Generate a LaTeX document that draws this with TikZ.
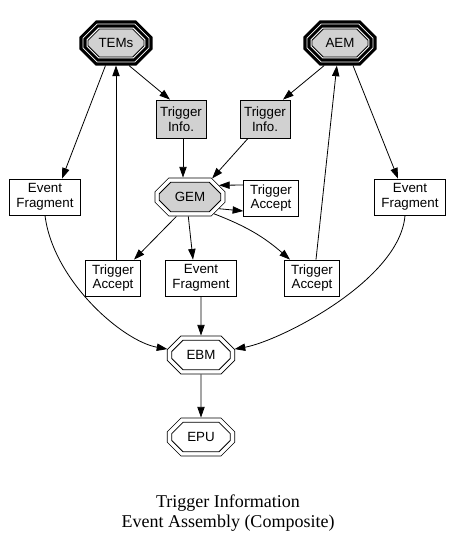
\documentclass[tikz,border=0pt]{standalone}
\usepackage{fontspec}
\setmainfont{Liberation Serif}
\setsansfont{Liberation Sans}
\usetikzlibrary{arrows.meta, shapes.misc}

\begin{document}
\begin{tikzpicture}[x=0.75pt, y=-0.75pt, font=\sffamily\fontsize{10}{11}\selectfont,
  >={Triangle[length=8pt, width=5.5pt]},
  edge/.style={->, line width=0.6pt},
  box/.style={draw, line width=0.6pt, rectangle, align=center, inner sep=0, minimum height=27pt},
  info/.style={box, fill=black!18, minimum width=37.5pt, minimum height=28.5pt},
  acc/.style={box, minimum width=41pt},
  frag/.style={box, minimum width=53pt},
  oct/.style={chamfered rectangle, chamfered rectangle xsep=8pt, chamfered rectangle ysep=5pt,
    draw, line width=0.6pt, inner sep=0, minimum width=44pt, minimum height=22pt},
  dbloct/.style={oct, fill=white, outer sep=3.6pt,
    preaction={draw, line width=7.2pt}, preaction={draw, white, line width=6pt}},
  triplet/.style={oct, fill=black!18, outer sep=6.4pt, minimum width=42pt, minimum height=21pt,
    preaction={draw, line width=12.8pt}, preaction={draw, white, line width=8.2pt},
    preaction={draw, line width=6.8pt}, preaction={draw, white, line width=2.2pt}},
  caption/.style={align=center, font=\rmfamily\fontsize{13.5}{14.5}\selectfont}]
\useasboundingbox (0,0) rectangle (452,547);
% sources
\node[triplet] (tems) at (116,43) {TEMs};
\node[triplet] (aem)  at (340,43) {AEM};
\node[info] (tiL) at (181,119) {Trigger\\Info.};
\node[info] (tiR) at (265,119) {Trigger\\Info.};
% global event manager
\node[dbloct, fill=black!18, minimum width=46pt] (gem) at (190,197) {GEM};
\node[acc]  (taG) at (271,198) {Trigger\\Accept};
\node[frag] (efL) at (45,197)  {Event\\Fragment};
\node[frag] (efR) at (410,197) {Event\\Fragment};
\node[acc]  (taL) at (113,278) {Trigger\\Accept};
\node[frag] (efM) at (201,278) {Event\\Fragment};
\node[acc]  (taR) at (312,278) {Trigger\\Accept};
% builders
\node[dbloct] (ebm) at (201,355) {EBM};
\node[dbloct] (epu) at (201,437) {EPU};
\node[caption] (cap) at (228,513) {Trigger Information\\Event Assembly (Composite)};

\draw[edge] (tems.245) -- ([shift={(17,0)}]efL.north);
\draw[edge] (tems.300) -- ([shift={(-11,0)}]tiL.north);
\draw[edge] (taL.north -| tems) -- (tems.south);
\draw[edge] (aem.235) -- ([shift={(18,0)}]tiR.north);
\draw[edge] (aem.300) -- ([shift={(-12,0)}]efR.north);
\draw[edge] ([shift={(4,0)}]taR.north) -- (aem.262);
\draw[edge] ([shift={(2,0)}]tiL.south) -- ([shift={(2,0)}]gem.north -| tiL.south);
\draw[edge] ([shift={(-17,0)}]tiR.south) -- (gem.40);
\draw[edge] ([shift={(0,-13)}]taG.west) -- (gem.22);
\draw[edge] (gem.-22) -- ([shift={(0,13)}]taG.west);
\draw[edge] (gem.235) -- ([shift={(21,0)}]taL.north);
\draw[edge] (gem.265) -- ([shift={(-8,0)}]efM.north);
\draw[edge] (gem.-35) to[bend left=10] ([shift={(-22,0)}]taR.north);
\draw[edge] (efL.south) .. controls +(8,65) and +(-45,-8) .. (ebm.170);
\draw[edge] (efM) -- (ebm);
\draw[edge] ([shift={(-5,0)}]efR.south) .. controls +(-5,65) and +(45,-8) .. (ebm.10);
\draw[edge] (ebm) -- (epu);
\end{tikzpicture}
\end{document}
